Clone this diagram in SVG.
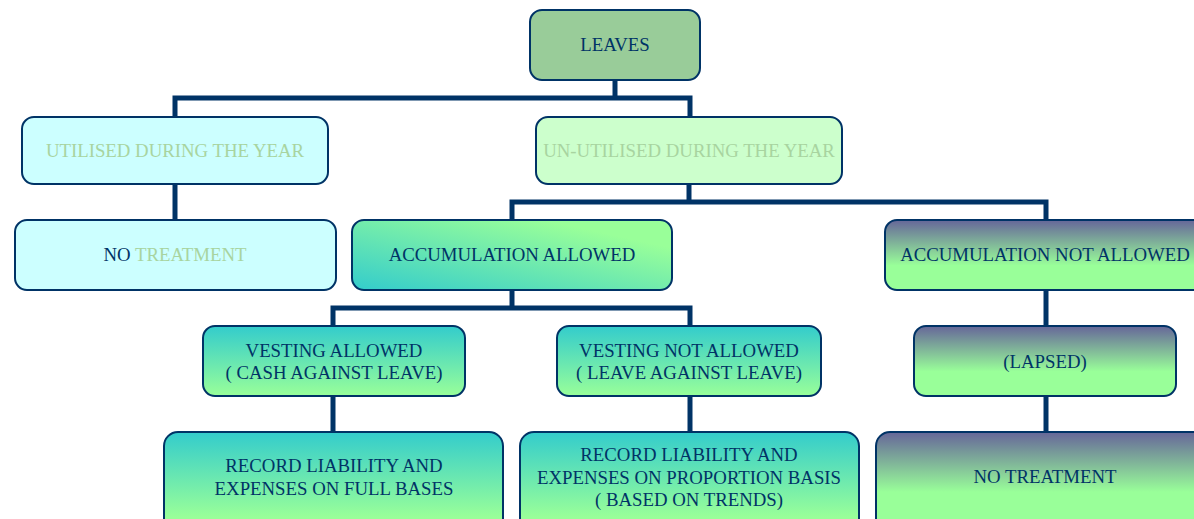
<svg xmlns="http://www.w3.org/2000/svg" width="1194" height="519" viewBox="0 0 1194 519">
<defs>
<linearGradient id="gDiag" x1="0" y1="1" x2="1" y2="0">
<stop offset="0" stop-color="#33cccc"/>
<stop offset="0.8" stop-color="#99ff99"/>
</linearGradient>
<linearGradient id="gTeal" x1="0" y1="0" x2="0" y2="1">
<stop offset="0" stop-color="#33cccc"/>
<stop offset="1" stop-color="#99ff99"/>
</linearGradient>
<linearGradient id="gPurple" x1="0" y1="0" x2="0" y2="1">
<stop offset="0" stop-color="#666699"/>
<stop offset="0.65" stop-color="#99ff99"/>
</linearGradient>
<linearGradient id="gTealTall" x1="0" y1="0" x2="0" y2="1">
<stop offset="0" stop-color="#33cccc"/>
<stop offset="0.85" stop-color="#99ff99"/>
</linearGradient>
<linearGradient id="gPurpleTall" x1="0" y1="0" x2="0" y2="1">
<stop offset="0" stop-color="#666699"/>
<stop offset="0.6" stop-color="#99ff99"/>
</linearGradient>
</defs>
<style>
.box{stroke:#003366;stroke-width:2}
.t{font-family:"Liberation Serif","Times New Roman",serif;font-size:18.8px;fill:#003366;text-anchor:middle}
.lt{fill:#a8d4a0}
.con{fill:none;stroke:#003366;stroke-width:5}
</style>
<g id="connectors">
<polyline class="con" points="615,80 615,98"/>
<polyline class="con" points="175,117 175,98 690,98 690,117"/>
<polyline class="con" points="175,184 175,220"/>
<polyline class="con" points="689,184 689,202"/>
<polyline class="con" points="512,220 512,202 1046,202 1046,220"/>
<polyline class="con" points="512,290 512,308"/>
<polyline class="con" points="333,326 333,308 690,308 690,326"/>
<polyline class="con" points="333,396 333,432"/>
<polyline class="con" points="690,396 690,432"/>
<polyline class="con" points="1046,290 1046,326"/>
<polyline class="con" points="1046,396 1046,432"/>
</g>
<g id="leaves">
<rect class="box" x="530" y="10" width="170" height="70" rx="12" fill="#99cc99"/>
<text class="t" x="615" y="51">LEAVES</text>
</g>
<g id="utilised">
<rect class="box" x="22" y="117" width="306" height="67" rx="12" fill="#ccffff"/>
<text class="t lt" x="175" y="157">UTILISED DURING THE YEAR</text>
</g>
<g id="unutilised">
<rect class="box" x="536" y="117" width="306" height="67" rx="12" fill="#ccffcc"/>
<text class="t lt" x="689" y="157">UN-UTILISED DURING THE YEAR</text>
</g>
<g id="no-treatment-1">
<rect class="box" x="15" y="220" width="321" height="70" rx="12" fill="#ccffff"/>
<text class="t" x="175" y="261">NO <tspan class="lt">TREATMENT</tspan></text>
</g>
<g id="accum-allowed">
<rect class="box" x="352" y="220" width="320" height="70" rx="12" fill="url(#gDiag)"/>
<text class="t" x="512" y="261">ACCUMULATION ALLOWED</text>
</g>
<g id="accum-not-allowed">
<rect class="box" x="885" y="220" width="330" height="70" rx="12" fill="url(#gPurple)"/>
<text class="t" x="1045" y="261">ACCUMULATION NOT ALLOWED</text>
</g>
<g id="vesting-allowed">
<rect class="box" x="203" y="326" width="262" height="70" rx="12" fill="url(#gTeal)"/>
<text class="t" x="334" y="357">VESTING ALLOWED</text>
<text class="t" x="334" y="379">( CASH AGAINST LEAVE)</text>
</g>
<g id="vesting-not-allowed">
<rect class="box" x="557" y="326" width="264" height="70" rx="12" fill="url(#gTeal)"/>
<text class="t" x="689" y="357">VESTING NOT ALLOWED</text>
<text class="t" x="689" y="379">( LEAVE AGAINST LEAVE)</text>
</g>
<g id="lapsed">
<rect class="box" x="914" y="326" width="262" height="70" rx="12" fill="url(#gPurple)"/>
<text class="t" x="1045" y="368">(LAPSED)</text>
</g>
<g id="record-full">
<rect class="box" x="164" y="432" width="339" height="100" rx="14" fill="url(#gTealTall)"/>
<text class="t" x="334" y="472">RECORD LIABILITY AND</text>
<text class="t" x="334" y="495">EXPENSES ON FULL BASES</text>
</g>
<g id="record-proportion">
<rect class="box" x="520" y="432" width="339" height="100" rx="14" fill="url(#gTealTall)"/>
<text class="t" x="689" y="461">RECORD LIABILITY AND</text>
<text class="t" x="689" y="484">EXPENSES ON PROPORTION BASIS</text>
<text class="t" x="689" y="506">( BASED ON TRENDS)</text>
</g>
<g id="no-treatment-2">
<rect class="box" x="876" y="432" width="340" height="100" rx="14" fill="url(#gPurpleTall)"/>
<text class="t" x="1045" y="483">NO TREATMENT</text>
</g>
</svg>
